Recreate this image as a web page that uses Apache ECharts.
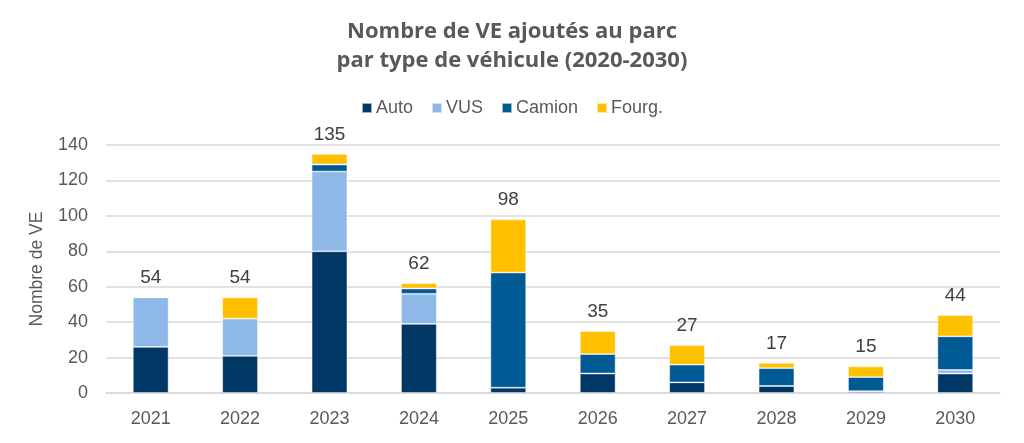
<!DOCTYPE html>
<html>
<head>
<meta charset="utf-8">
<script src="https://cdn.jsdelivr.net/npm/echarts@6/dist/echarts.min.js"></script>
<style>html,body{margin:0;padding:0;background:#fff;}#c{width:1024px;height:443px;}</style>
</head>
<body>
<div id="c"></div>
<script>
const categories = ['2021','2022','2023','2024','2025','2026','2027','2028','2029','2030'];
const auto   = [26, 21, 80, 39,  3, 11,  6,  4, 1, 11];
const vus    = [28, 21, 45, 17,  0,  0,  0,  0, 0,  2];
const camion = [ 0,  0,  4,  3, 65, 11, 10, 10, 8, 19];
const fourg  = [ 0, 12,  6,  3, 30, 13, 11,  3, 6, 12];
const totals = [54, 54, 135, 62, 98, 35, 27, 17, 15, 44];

const chart = echarts.init(document.getElementById('c'));
const font = '"Liberation Sans", Arial, sans-serif';
const titleFont = '"Open Sans", sans-serif';
function seg(name, data, color) {
  return {
    name, type: 'bar', stack: 'all', data, barWidth: '40%',
    itemStyle: { color, borderColor: 'rgba(255,255,255,0.6)', borderWidth: 0.8 }
  };
}
chart.setOption({
  animation: false,
  title: {
    text: 'Nombre de VE ajoutés au parc\npar type de véhicule (2020-2030)',
    left: 'center', top: 12,
    textStyle: { fontFamily: titleFont, fontWeight: 'bold', fontSize: 22, color: '#595959', lineHeight: 29 }
  },
  legend: {
    data: ['Auto','VUS','Camion','Fourg.'],
    top: 94, left: 'center', itemWidth: 10, itemHeight: 10, itemGap: 18,
    icon: 'rect',
    textStyle: { fontFamily: font, fontSize: 18, color: '#595959', padding: [0,0,0,-1] }
  },
  grid: { left: 106, right: 24, top: 145, bottom: 50 },
  xAxis: {
    type: 'category', data: categories,
    axisLine: { lineStyle: { color: '#d9d9d9', width: 1.5 } },
    axisTick: { show: false },
    axisLabel: { fontFamily: font, fontSize: 18, color: '#595959', margin: 17 }
  },
  yAxis: {
    type: 'value', min: 0, max: 140, interval: 20,
    name: 'Nombre de VE', nameLocation: 'middle', nameGap: 60, nameRotate: 90,
    nameTextStyle: { fontFamily: font, fontSize: 17.5, color: '#595959' },
    axisLine: { show: false }, axisTick: { show: false },
    axisLabel: { fontFamily: font, fontSize: 18, color: '#595959', margin: 18 },
    splitLine: { lineStyle: { color: '#d9d9d9', width: 1.5 } }
  },
  series: [
    seg('Auto', auto, '#003764'),
    seg('VUS', vus, '#8DB8E8'),
    seg('Camion', camion, '#005A94'),
    seg('Fourg.', fourg, '#FFC000'),
    {
      name: 'Total', type: 'bar', data: totals, barWidth: '40%', barGap: '-100%', z: 1,
      itemStyle: { color: 'rgba(0,0,0,0)' },
      label: { show: true, position: 'top', distance: 10, fontFamily: font, fontSize: 19, color: '#404040' }
    }
  ]
});
</script>
</body>
</html>
